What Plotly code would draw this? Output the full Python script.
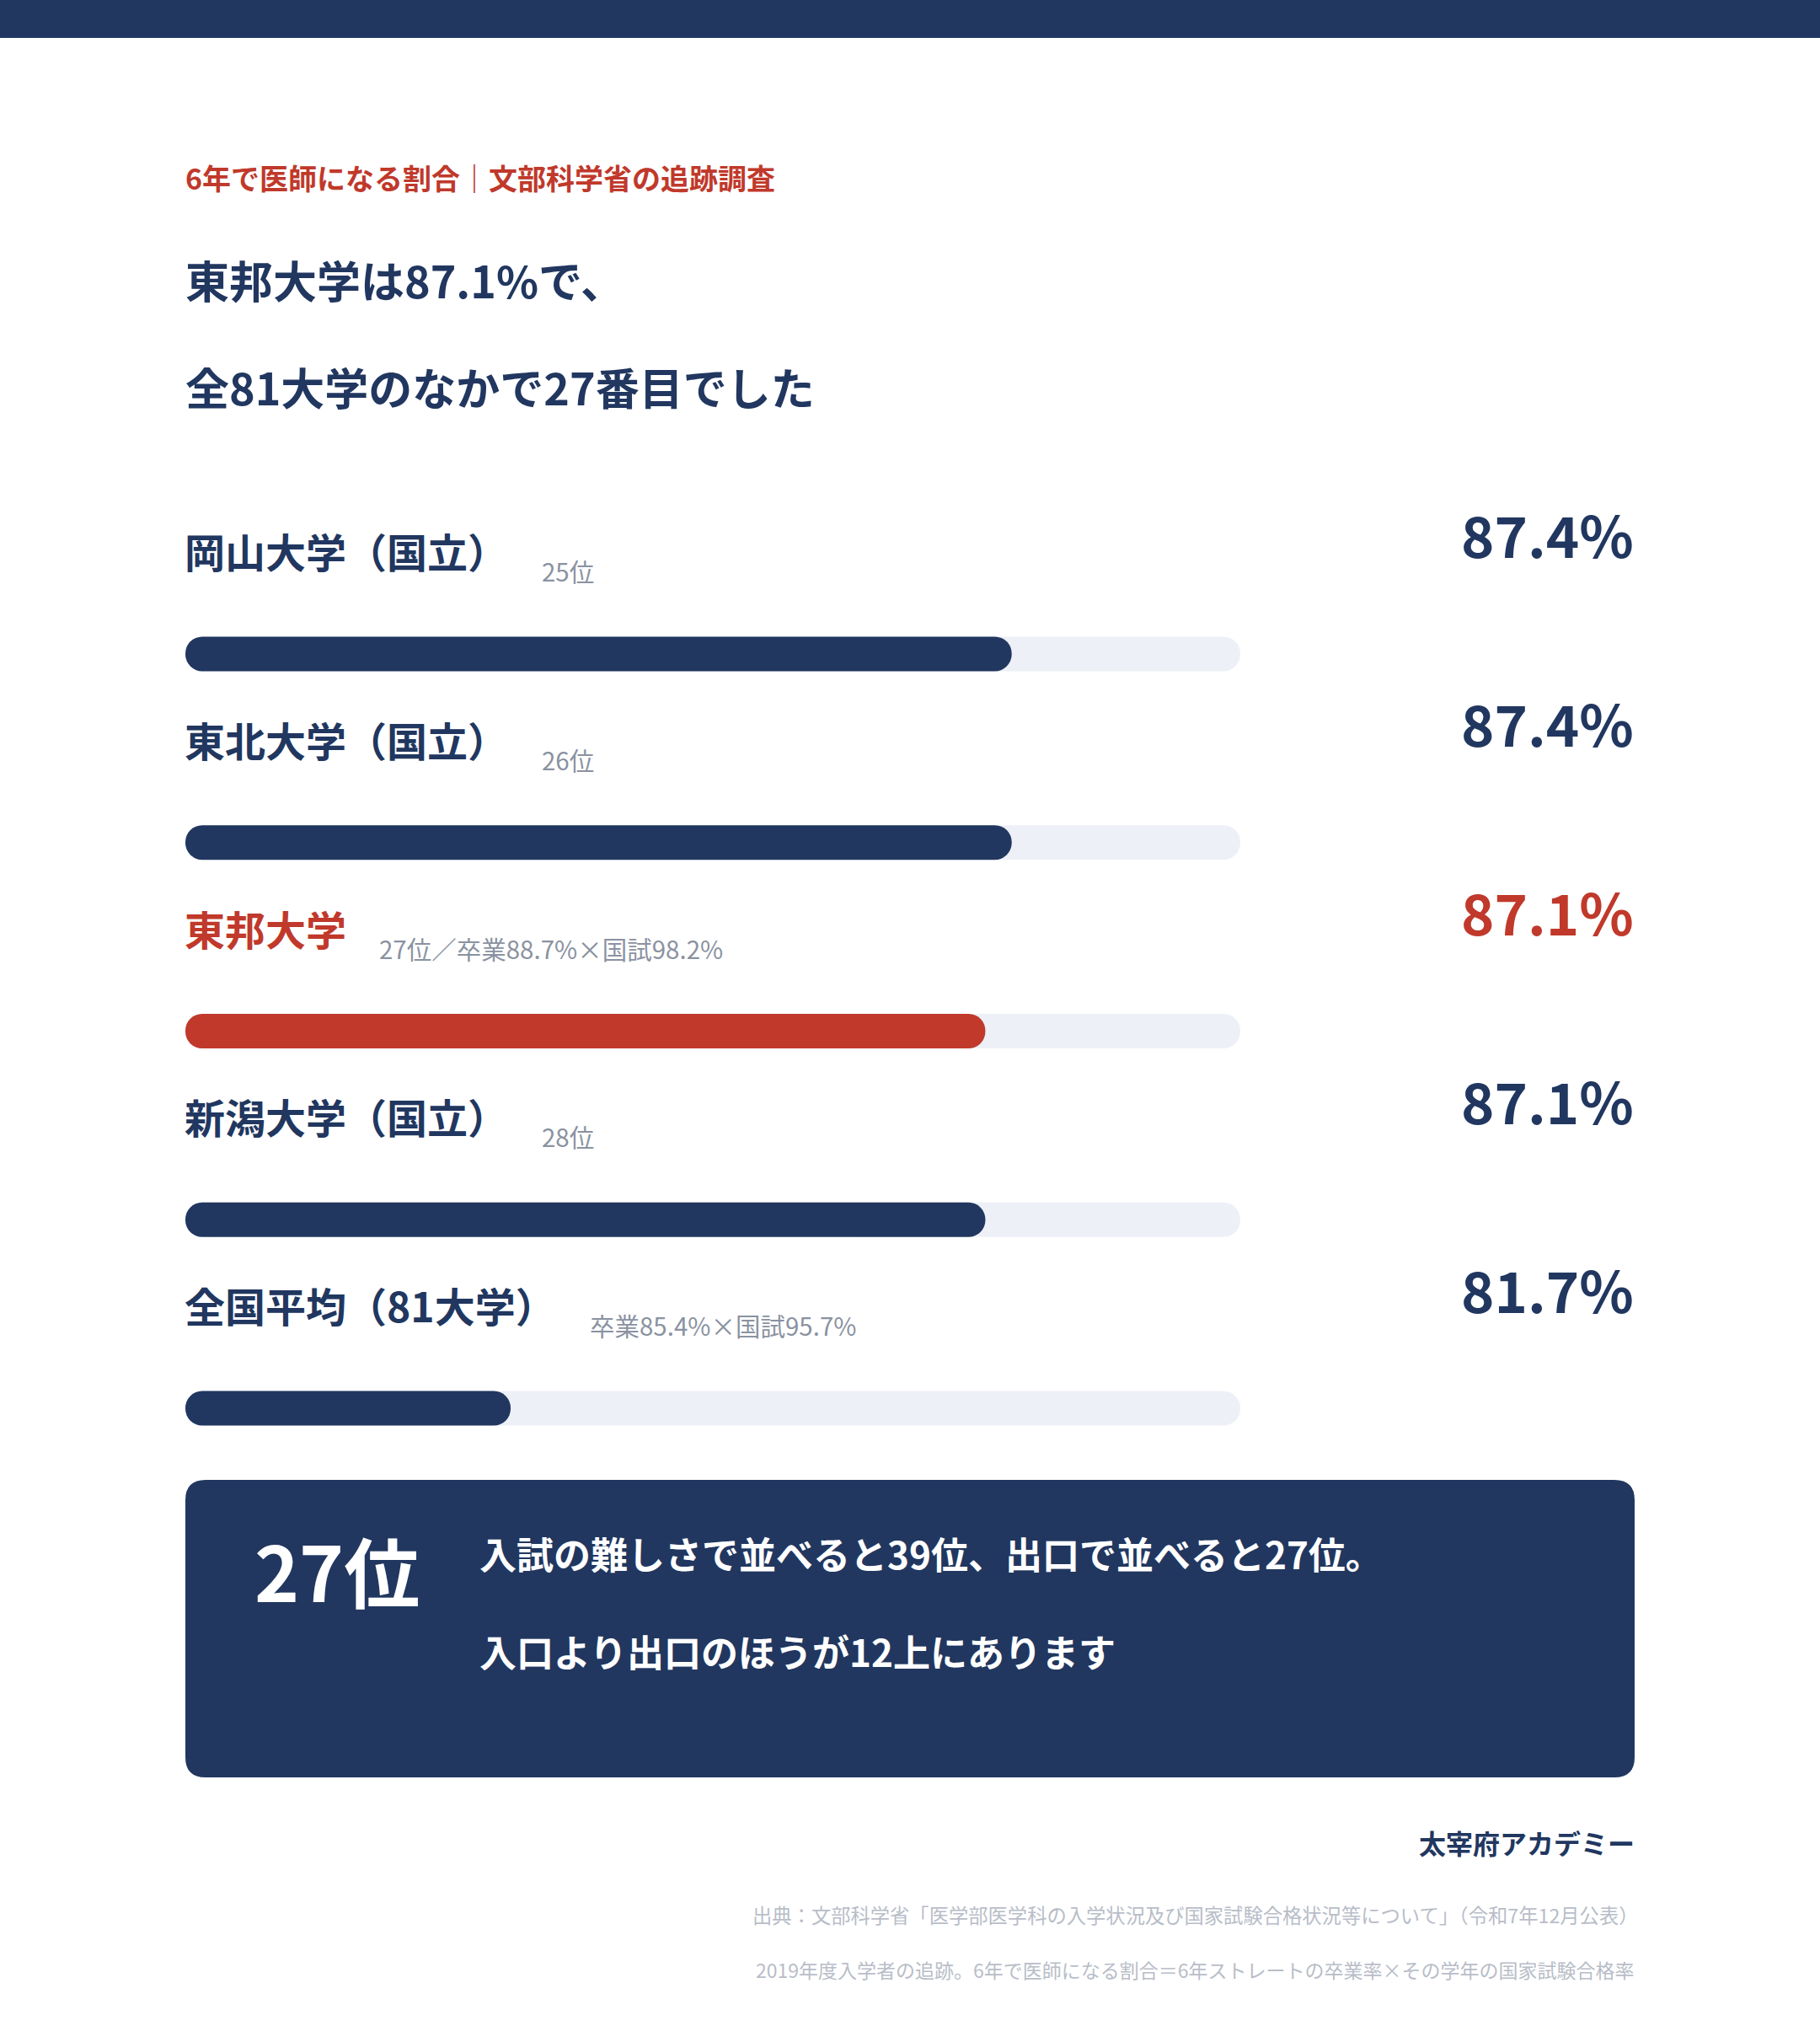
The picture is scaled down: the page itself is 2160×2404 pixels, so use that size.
import plotly.graph_objects as go

W, H = 2160, 2404
FONT = "Noto Sans CJK JP"
NAVY = "#213760"
RED = "#c0392b"
TRACK = "#edf0f7"
GREY = "#8a92a1"
LIGHT = "#b8bdc8"

# --- data ---
universities = ["岡山大学（国立）", "東北大学（国立）", "東邦大学", "新潟大学（国立）", "全国平均（81大学）"]
rates = [87.4, 87.4, 87.1, 87.1, 81.7]
rank_notes = ["25位", "26位", "27位／卒業88.7%×国試98.2%", "28位", "卒業85.4%×国試95.7%"]
highlight = "東邦大学"
axis_min, axis_max = 78, 90

kicker = "6年で医師になる割合｜文部科学省の追跡調査"
headline = ["東邦大学は87.1%で、", "全81大学のなかで27番目でした"]
callout_rank = "27位"
callout_lines = ["入試の難しさで並べると39位、出口で並べると27位。", "入口より出口のほうが12上にあります"]
brand = "太宰府アカデミー"
sources = [
    "出典：文部科学省「医学部医学科の入学状況及び国家試験合格状況等について」（令和7年12月公表）",
    "2019年度入学者の追跡。6年で医師になる割合＝6年ストレートの卒業率×その学年の国家試験合格率",
]

# layout helpers (pixels -> paper)
def px(x):
    return x / W

def py(y):
    return 1 - y / H

note_x = [641, 641, 448, 641, 698]
BAR_W = 41 / 223.75

rows = list(range(len(universities)))
colors = [RED if u == highlight else NAVY for u in universities]

fig = go.Figure()
# grey track, then the filled pill on top (base at the axis start so both ends are rounded)
fig.add_trace(go.Bar(
    y=rows, base=[axis_min] * len(rows), x=[axis_max - axis_min] * len(rows),
    orientation="h", width=BAR_W,
    marker=dict(color=TRACK, cornerradius="50%", line_width=0),
    hoverinfo="skip", showlegend=False))
fig.add_trace(go.Bar(
    y=rows, base=[axis_min] * len(rows), x=[r - axis_min for r in rates],
    orientation="h", width=BAR_W,
    marker=dict(color=colors, cornerradius="50%", line_width=0),
    hoverinfo="skip", showlegend=False))

ann = []
for i, (u, r, note) in enumerate(zip(universities, rates, rank_notes)):
    c = RED if u == highlight else NAVY
    ann.append(dict(x=axis_min, xref="x", y=i, yref="y", xshift=-3, yshift=123, xanchor="left", yanchor="middle",
                    text=u, showarrow=False, font=dict(family=FONT, size=48, color=c, weight=700)))
    ann.append(dict(x=px(note_x[i]), xref="paper", y=i, yref="y", yshift=99, xanchor="left", yanchor="middle",
                    text=note, showarrow=False, font=dict(family=FONT, size=29.5, color=GREY)))
    ann.append(dict(x=px(1941), xref="paper", y=i, yref="y", yshift=143, xanchor="right", yanchor="middle",
                    text=f"{r:.1f}%", showarrow=False, font=dict(family=FONT, size=67, color=c, weight=700)))

ann.append(dict(x=px(218), y=py(210), text=kicker, font=dict(family=FONT, size=34, color=RED, weight=700)))
ann.append(dict(x=px(218), y=py(331), text=headline[0], font=dict(family=FONT, size=52, color=NAVY, weight=700)))
ann.append(dict(x=px(218), y=py(458), text=headline[1], font=dict(family=FONT, size=52, color=NAVY, weight=700)))

ann.append(dict(x=px(300), y=py(1862), text=callout_rank, font=dict(family=FONT, size=90, color="white", weight=700)))
ann.append(dict(x=px(567), y=py(1843), text=callout_lines[0], font=dict(family=FONT, size=44, color="white", weight=700)))
ann.append(dict(x=px(567), y=py(1959), text=callout_lines[1], font=dict(family=FONT, size=44, color="white", weight=700)))

ann.append(dict(x=px(1942), y=py(2186), xanchor="right", text=brand,
                font=dict(family=FONT, size=32, color=NAVY, weight=700)))
ann.append(dict(x=px(1947), y=py(2272), xanchor="right", text=sources[0],
                font=dict(family=FONT, size=23.3, color=LIGHT)))
ann.append(dict(x=px(1942), y=py(2337), xanchor="right", text=sources[1],
                font=dict(family=FONT, size=23, color=LIGHT)))

for a in ann:
    a.setdefault("xref", "paper")
    a.setdefault("yref", "paper")
    a.setdefault("xanchor", "left")
    a.setdefault("yanchor", "middle")
    a.setdefault("showarrow", False)

# rounded callout box
x0, x1, y0, y1, rr = px(220), px(1940), py(1756), py(2109), 24
rx, ry = rr / W, rr / H
box_path = (
    f"M {x0 + rx},{y0} L {x1 - rx},{y0} Q {x1},{y0} {x1},{y0 - ry} "
    f"L {x1},{y1 + ry} Q {x1},{y1} {x1 - rx},{y1} "
    f"L {x0 + rx},{y1} Q {x0},{y1} {x0},{y1 + ry} "
    f"L {x0},{y0 - ry} Q {x0},{y0} {x0 + rx},{y0} Z"
)

shapes = [
    dict(type="rect", xref="paper", yref="paper", x0=0, x1=1, y0=py(45), y1=1.01,
         fillcolor=NAVY, line_width=0, layer="below"),
    dict(type="path", xref="paper", yref="paper", path=box_path,
         fillcolor=NAVY, line_width=0, layer="below"),
]

fig.update_layout(
    width=W, height=H,
    margin=dict(l=0, r=0, t=0, b=0),
    paper_bgcolor="white", plot_bgcolor="white",
    barmode="overlay",
    showlegend=False,
    annotations=ann,
    shapes=shapes,
    xaxis=dict(domain=[px(220), px(1472)], range=[axis_min, axis_max], visible=False, fixedrange=True),
    yaxis=dict(domain=[py(1783), py(664)], range=[4.5, -0.5], visible=False, fixedrange=True),
    font=dict(family=FONT),
)

fig.write_html("out.html", config={"displayModeBar": False},
               post_script="document.body.style.margin='0';document.body.style.overflow='hidden';")
